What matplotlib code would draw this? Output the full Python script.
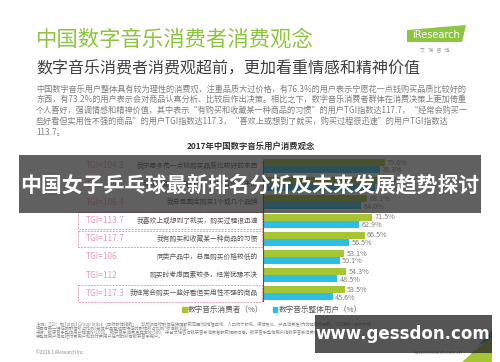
import matplotlib
matplotlib.use('Agg')
import matplotlib.pyplot as plt
from matplotlib.patches import Rectangle, Polygon, Patch

plt.rcParams['font.family'] = ['Noto Sans CJK SC', 'DejaVu Sans']

W, H = 500, 362

# 数据
categories = ['我宁愿多花一点钱购买品质比较好的东西',
              '我会对商品认真分析，比较后作出决策',
              '我总是固定购买1个或几个品牌',
              '我喜欢上或想到了就买，购买过程很迅速',
              '我有购买和收藏某一种商品的习惯',
              '同类产品中，总是购买价格较低的',
              '购买时考虑因素较多，经常犹豫不决',
              '我经常会购买一些好看但实用性不强的商品']
tgi = ['104.3', '105.7', '106.4', '113.7', '117.7', '106', '112', '117.3']
consumers = [79.6, 77.4, 68.1, 71.5, 66.5, 53.1, 54.3, 53.5]
overall = [76.3, 73.2, 64.0, 62.9, 56.5, 50.1, 48.5, 45.6]
highlight = [3, 4, 7]
series_names = ['数字音乐消费者（%）', '数字音乐整体用户（%）']

GREEN = '#a5c532'
BLUE = '#2bbfe6'
PINK = '#ec9db2'


def fx(x):
    return x / W


def fy(y):
    return 1 - y / H


fig = plt.figure(figsize=(5, 3.62), dpi=100)
fig.patch.set_facecolor('white')

# 标题
fig.text(fx(36), fy(40), '中国数字音乐消费者消费观念', fontsize=15.4, color='#8cc63f',
         ha='left', va='center')
fig.text(fx(36), fy(69), '数字音乐消费者消费观超前，更加看重情感和精神价值', fontsize=11.5,
         color='#404040', ha='left', va='center')

para = ['中国数字音乐用户整体具有较为理性的消费观，注重品质大过价格，有76.3%的用户表示宁愿花一点钱购买品质比较好的',
        '东西，有73.2%的用户表示会对商品认真分析、比较后作出决策。相比之下，数字音乐消费者群体在消费决策上更加倚重',
        '个人喜好，强调情感和精神价值，其中表示“有购买和收藏某一种商品的习惯”的用户TGI指数达117.7，“经常会购买一',
        '些好看但实用性不强的商品”的用户TGI指数达117.3，“喜欢上或想到了就买，购买过程很迅速”的用户TGI指数达',
        '113.7。']
for i, line in enumerate(para):
    fig.text(fx(36), fy(89 + i * 10.8), line, fontsize=5.9, color='#7f7f7f',
             ha='left', va='center')

# logo
fig.patches.append(Polygon([(fx(407), fy(42)), (fx(407), fy(30)), (fx(466), fy(25)), (fx(462), fy(42))],
                           closed=True, transform=fig.transFigure, facecolor='#8cc63f', edgecolor='none'))
fig.text(fx(436), fy(35), 'iResearch', fontsize=7, color='white', ha='center', va='center',
         family='DejaVu Sans')
fig.text(fx(435), fy(51), '艾   瑞   咨   询', fontsize=3.5, color='#999999', ha='center', va='center')

fig.text(fx(251), fy(146), '2017年中国数字音乐用户消费观念', fontsize=6, fontweight='bold',
         color='#333333', ha='center', va='center')

# 条形图
ax = fig.add_axes([fx(263), fy(302.5), 153 / W, 145.6 / H])
ax.set_xlim(0, 100)
ax.set_ylim(len(categories) - 0.5, -0.5)
ax.axis('off')
ax.plot([0, 0], [-0.3, len(categories) - 0.6], color='#555555', lw=0.8, clip_on=False)

bh = 0.38
for i in range(len(categories)):
    ax.barh(i - bh / 2, consumers[i], height=bh, color=GREEN)
    ax.barh(i + bh / 2, overall[i], height=bh, color=BLUE)
    ax.text(consumers[i] + 1.5, i - bh / 2, f'{consumers[i]:.1f}%', fontsize=5.2,
            color='#808080', va='center', ha='left')
    ax.text(overall[i] + 1.5, i + bh / 2 + 0.05, f'{overall[i]:.1f}%', fontsize=5.2,
            color='#808080', va='center', ha='left')
    ax.text(-3.3, i, categories[i], fontsize=4.9, color='#595959', ha='right', va='center',
            clip_on=False)
    ax.text(-116, i, f'TGI={tgi[i]}', fontsize=6, color=PINK, ha='left', va='center',
            clip_on=False)
    if i in highlight:
        ax.add_patch(Rectangle((-121, i - 0.45), 120.3, 0.9, fill=False, edgecolor=PINK,
                               lw=0.7, ls=(0, (2, 1.2)), clip_on=False))

handles = [Patch(color=GREEN), Patch(color=BLUE)]
fig.legend(handles, series_names, loc='center', bbox_to_anchor=(fx(272), fy(310)), ncol=2,
           frameon=False, fontsize=5.5, handlelength=0.6, handleheight=0.6, handletextpad=0.2,
           columnspacing=1.2, labelcolor='#595959')

# 脚注
notes = ['注释：TGI：即Target Group Index（目标群体指数），可反映目标群体在特定研究范围(如地理区域、人口统计领域、媒体受众、产品消费者)内的强势或弱势。TGI指数= 目标群体',
         '中具有某一特征的群体所占比例/总体中具有相同特征的群体所占比例*标准数100。',
         '来源：数字音乐整体用户样本N=1000，数字音乐消费者样本N=500，来自艾瑞咨询数字音乐消费者研究调研问卷。数字音乐整体用户指数字音乐消费者和非数字音',
         '乐整体用户指包括付费用户和非付费用户在内的所有数字音乐用户。']
for i, line in enumerate(notes):
    fig.text(fx(36), fy(324 + i * 4.4), line, fontsize=3.1, color='#8a8a8a', ha='left', va='center')
fig.text(fx(36), fy(353), '©2018.1 iResearch Inc', fontsize=3.3, color='#8a8a8a', ha='left', va='center')
fig.text(fx(438), fy(353), 'www.iresearch.com.cn', fontsize=3.3, color='#8a8a8a', ha='center', va='center')
fig.text(fx(474), fy(353), '27', fontsize=4, color='#8a8a8a', ha='center', va='center')
fig.patches.append(Polygon([(fx(462), fy(362)), (fx(492), fy(362)), (fx(492), fy(336))], closed=True,
                           transform=fig.transFigure, facecolor='#a5c532', edgecolor='none'))
fig.patches.append(Polygon([(fx(478), fy(346)), (fx(492), fy(330)), (fx(492), fy(338))], closed=True,
                           transform=fig.transFigure, facecolor='#1f8fa8', edgecolor='none'))

# 水印横幅
fig.patches.append(Rectangle((fx(19), fy(213)), (481 - 19) / W, (213 - 155) / H,
                             transform=fig.transFigure, facecolor='#2b2b2b', alpha=0.75,
                             edgecolor='none', zorder=10))
fig.text(fx(250), fy(185), '中国女子乒乓球最新排名分析及未来发展趋势探讨', fontsize=15,
         fontweight='bold', color='white', ha='center', va='center', zorder=11)
fig.patches.append(Rectangle((fx(315), fy(353)), (492 - 315) / W, (353 - 315) / H,
                             transform=fig.transFigure, facecolor='#2b2b2b', alpha=0.8,
                             edgecolor='none', zorder=10))
fig.text(fx(403), fy(334), 'www.gessdon.com', fontsize=12, fontweight='bold', color='white',
         ha='center', va='center', family='DejaVu Sans', zorder=11)

fig.savefig('out.png', dpi=100, facecolor='white')
